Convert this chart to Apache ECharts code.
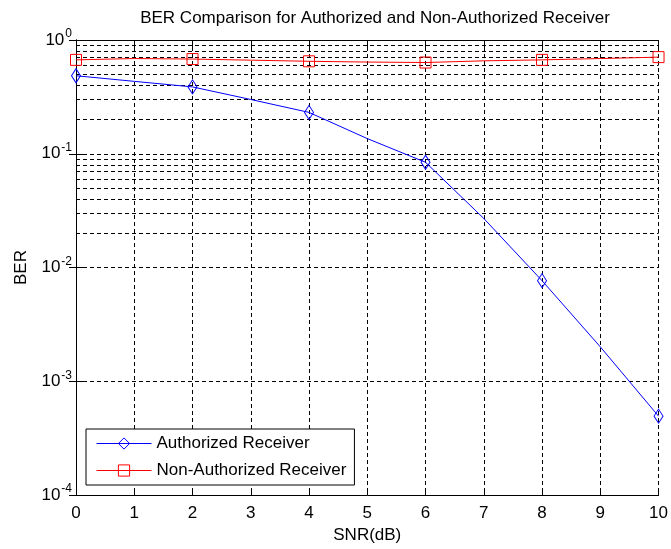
<!DOCTYPE html>
<html>
<head>
<meta charset="utf-8">
<script src="https://cdn.jsdelivr.net/npm/echarts@6/dist/echarts.min.js"></script>
<style>
html,body{margin:0;padding:0;background:#fff;}
#chart{width:671px;height:549px;}
</style>
</head>
<body>
<div id="chart"></div>
<script>
// ---- data ----
const snr = [0, 1, 2, 3, 4, 5, 6, 7, 8, 9, 10];
const authorizedBER = [0.485, 0.433, 0.387, 0.30, 0.231, 0.136, 0.0842, 0.027, 0.00767, 0.00201, 0.000494];
const nonAuthorizedBER = [0.669, 0.687, 0.68, 0.665, 0.65, 0.64, 0.634, 0.656, 0.669, 0.687, 0.707];
const xTicks = [0, 1, 2, 3, 4, 5, 6, 7, 8, 9, 10];
const yDecades = [-4, -3, -2, -1, 0];
const minorMultipliers = [2, 3, 4, 5, 6, 7, 8, 9];
const seriesNames = ['Authorized Receiver', 'Non-Authorized Receiver'];

const FONT = '"Liberation Sans", Arial, Helvetica, sans-serif';
const dash = [4, 3];

function pts(vals, everyOtherMarker) {
  return snr.map((x, i) => {
    const item = { value: [x, vals[i]] };
    if (everyOtherMarker && x % 2 !== 0) item.symbol = 'none';
    return item;
  });
}

const minorLines = [];
yDecades.slice(0, -1).forEach(e => {
  minorMultipliers.forEach(m => minorLines.push({ yAxis: m * Math.pow(10, e) }));
});

const chart = echarts.init(document.getElementById('chart'), null, { renderer: 'canvas' });
chart.setOption({
  animation: false,
  backgroundColor: '#fff',
  textStyle: { fontFamily: FONT },
  title: {
    text: 'BER Comparison for Authorized and Non-Authorized Receiver',
    left: 370, top: 5, textAlign: 'center',
    textStyle: { fontFamily: FONT, fontSize: 17, fontWeight: 'normal', color: '#000' }
  },
  grid: { left: 76, right: 7, top: 40, bottom: 50, containLabel: false },
  legend: {
    orient: 'vertical', left: 86, top: 429,
    backgroundColor: '#fff', borderColor: '#000', borderWidth: 1,
    padding: [6, 8, 6, 10],
    itemWidth: 55, itemHeight: 14, itemGap: 10,
    lineStyle: { width: 1 },
    itemStyle: { borderWidth: 1 },
    textStyle: { fontFamily: FONT, fontSize: 17, color: '#000' },
    data: seriesNames
  },
  xAxis: [{
    type: 'value', min: 0, max: 10, interval: 1,
    name: 'SNR(dB)', nameLocation: 'middle', nameGap: 31,
    nameTextStyle: { fontFamily: FONT, fontSize: 17, color: '#000' },
    axisLine: { show: true, lineStyle: { color: '#000', width: 1 } },
    axisTick: { show: true, inside: true, length: 7, lineStyle: { color: '#000' } },
    axisLabel: { margin: 10, fontFamily: FONT, fontSize: 17, color: '#000',
      formatter: v => xTicks.includes(v) ? String(v) : '' },
    splitLine: { show: true, lineStyle: { color: '#000', type: dash, width: 1 } }
  }, {
    type: 'value', min: 0, max: 10, interval: 1, position: 'top',
    axisLine: { show: true, lineStyle: { color: '#000', width: 1 } },
    axisTick: { show: true, inside: true, length: 7, lineStyle: { color: '#000' } },
    axisLabel: { show: false }, splitLine: { show: false }
  }],
  yAxis: [{
    type: 'log', logBase: 10, min: 1e-4, max: 1,
    name: 'BER', nameLocation: 'middle', nameGap: 46, nameRotate: 90,
    nameTextStyle: { fontFamily: FONT, fontSize: 17, color: '#000' },
    axisLine: { show: true, lineStyle: { color: '#000', width: 1 } },
    axisTick: { show: true, inside: true, length: 7, lineStyle: { color: '#000' } },
    axisLabel: {
      margin: 4, color: '#000',
      formatter: v => {
        const e = Math.round(Math.log10(v));
        return '{b|10}{s|' + e + '}';
      },
      rich: {
        b: { fontFamily: FONT, fontSize: 17, color: '#000' },
        s: { fontFamily: FONT, fontSize: 12, color: '#000', padding: [0, 0, 12, 1] }
      }
    },
    splitLine: { show: true, lineStyle: { color: '#000', type: dash, width: 1 } }
  }, {
    type: 'log', logBase: 10, min: 1e-4, max: 1, position: 'right',
    axisLine: { show: true, lineStyle: { color: '#000', width: 1 } },
    axisTick: { show: true, inside: true, length: 7, lineStyle: { color: '#000' } },
    axisLabel: { show: false }, splitLine: { show: false }
  }],
  series: [{
    name: seriesNames[0], type: 'line',
    data: pts(authorizedBER, true),
    symbol: 'diamond', symbolSize: [9, 14], showAllSymbol: true,
    lineStyle: { color: '#0000ff', width: 1 },
    itemStyle: { color: 'rgba(255,255,255,0)', borderColor: '#0000ff', borderWidth: 1 },
    z: 3
  }, {
    name: seriesNames[1], type: 'line',
    data: pts(nonAuthorizedBER, true),
    symbol: 'rect', symbolSize: 11, showAllSymbol: true,
    lineStyle: { color: '#ff0000', width: 1 },
    itemStyle: { color: 'rgba(255,255,255,0)', borderColor: '#ff0000', borderWidth: 1 },
    z: 3,
    markLine: {
      silent: true, symbol: 'none', z: 1,
      label: { show: false },
      lineStyle: { color: '#000', type: dash, width: 1 },
      emphasis: { disabled: true },
      data: minorLines
    }
  }]
});
</script>
</body>
</html>
